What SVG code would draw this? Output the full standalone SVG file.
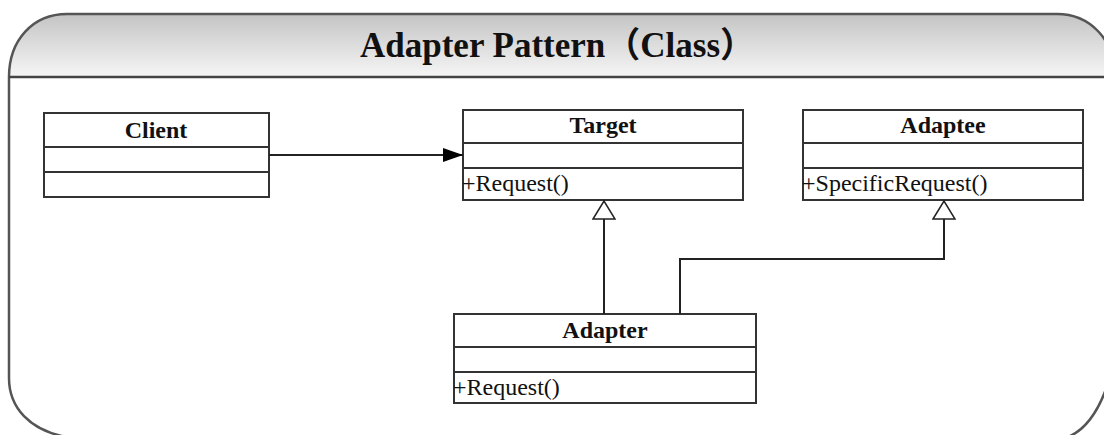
<svg xmlns="http://www.w3.org/2000/svg" width="1104" height="435" viewBox="0 0 1104 435">
<defs>
<linearGradient id="hdr" x1="0" y1="0" x2="0" y2="1">
<stop offset="0" stop-color="#c4c4c4"/>
<stop offset="1" stop-color="#f6f6f6"/>
</linearGradient>
<marker id="filled" viewBox="0 0 20 14" refX="20" refY="7" markerWidth="20" markerHeight="14" markerUnits="userSpaceOnUse" orient="auto">
<path d="M0,0 L20,7 L0,14 Z" fill="#000"/>
</marker>
<marker id="hollow" viewBox="0 0 20 24" refX="19" refY="12" markerWidth="20" markerHeight="24" markerUnits="userSpaceOnUse" orient="auto">
<path d="M1,1 L19,12 L1,23 Z" fill="#fff" stroke="#222" stroke-width="1.5"/>
</marker>
</defs>
<style>
.box{fill:#fff;stroke:#333;stroke-width:2}
.sep{stroke:#333;stroke-width:2}
.name{font-family:'Liberation Serif','Times New Roman',serif;font-weight:700;font-size:24px;fill:#111;text-anchor:middle}
.op{font-family:'Liberation Serif','Times New Roman',serif;font-size:24px;fill:#111}
.title{font-family:'Liberation Serif','Noto Sans CJK SC',serif;font-weight:700;font-size:35px;fill:#111}
.conn{fill:none;stroke:#222;stroke-width:2}
</style>
<rect width="1104" height="435" fill="#fff"/>
<g id="frame">
<path d="M9,77 C9,40 33,14 67,14 L1057,14 C1090,14 1114,40 1114,72 L1114,77 Z" fill="url(#hdr)"/>
<path d="M9,77 L9,378 C9,408 30,430 66,437 L1068,437 C1090,428 1104,400 1112,370 L1114,72 C1114,40 1090,14 1057,14 L67,14 C33,14 9,40 9,77 Z" fill="none" stroke="#555" stroke-width="2.5"/>
<line x1="9" y1="77" x2="1114" y2="77" stroke="#444" stroke-width="2.5"/>
<text class="title" x="360" y="57">Adapter Pattern（Class）</text>
</g>
<g id="client">
<rect class="box" x="44" y="113" width="225" height="84"/>
<line class="sep" x1="44" y1="147" x2="269" y2="147"/>
<line class="sep" x1="44" y1="172" x2="269" y2="172"/>
<text class="name" x="156" y="138">Client</text>
</g>
<g id="target">
<rect class="box" x="463" y="110" width="280" height="90"/>
<line class="sep" x1="463" y1="143" x2="743" y2="143"/>
<line class="sep" x1="463" y1="168" x2="743" y2="168"/>
<text class="name" x="603" y="133">Target</text>
<text class="op" x="462" y="191">+Request()</text>
</g>
<g id="adaptee">
<rect class="box" x="803" y="110" width="280" height="90"/>
<line class="sep" x1="803" y1="143" x2="1083" y2="143"/>
<line class="sep" x1="803" y1="168" x2="1083" y2="168"/>
<text class="name" x="943" y="133">Adaptee</text>
<text class="op" x="802" y="191">+SpecificRequest()</text>
</g>
<g id="adapter">
<rect class="box" x="454" y="314" width="302" height="89"/>
<line class="sep" x1="454" y1="347" x2="756" y2="347"/>
<line class="sep" x1="454" y1="372" x2="756" y2="372"/>
<text class="name" x="605" y="338">Adapter</text>
<text class="op" x="453" y="395">+Request()</text>
</g>
<g id="connectors">
<line class="conn" x1="269" y1="155" x2="463" y2="155" marker-end="url(#filled)"/>
<line class="conn" x1="604" y1="314" x2="604" y2="201" marker-end="url(#hollow)"/>
<polyline class="conn" points="680,314 680,259 944,259 944,201" marker-end="url(#hollow)"/>
</g>
</svg>
